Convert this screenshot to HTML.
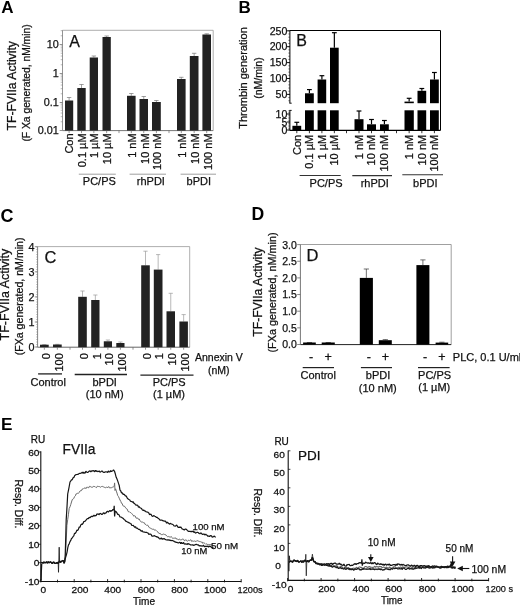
<!DOCTYPE html>
<html><head><meta charset="utf-8"><title>Figure</title>
<style>
html,body{margin:0;padding:0;background:#fff;}
body{width:520px;height:605px;overflow:hidden;font-family:'Liberation Sans', sans-serif;}
svg{display:block;transform:translateZ(0);will-change:transform;}
svg text{font-family:"Liberation Sans", sans-serif;}
</style></head><body>
<svg width="520" height="605" viewBox="0 0 520 605">
<rect width="520" height="605" fill="#fff"/>
<text x="1.2" y="12.7" font-size="17" text-anchor="start" font-weight="bold" fill="#000">A</text>
<text x="238.6" y="12.8" font-size="17" text-anchor="start" font-weight="bold" fill="#000">B</text>
<text x="0.4" y="221.5" font-size="18" text-anchor="start" font-weight="bold" fill="#000">C</text>
<text x="251.4" y="220.4" font-size="17.6" text-anchor="start" font-weight="bold" fill="#000">D</text>
<text x="0.9" y="430" font-size="17.2" text-anchor="start" font-weight="bold" fill="#000">E</text>
<line x1="62.5" y1="30.3" x2="213.2" y2="30.3" stroke="#999" stroke-width="0.8"/>
<line x1="213.2" y1="30.3" x2="213.2" y2="130.6" stroke="#999" stroke-width="0.8"/>
<line x1="62.5" y1="30.3" x2="62.5" y2="130.6" stroke="#888" stroke-width="0.9"/>
<line x1="62.5" y1="130.6" x2="213.2" y2="130.6" stroke="#666" stroke-width="0.9"/>
<line x1="59.7" y1="44.5" x2="62.5" y2="44.5" stroke="#777" stroke-width="0.8"/>
<text x="58.7" y="48.4" font-size="10.8" text-anchor="end" font-weight="normal" fill="#111" stroke="#111" stroke-width="0.25">10</text>
<line x1="59.7" y1="73.5" x2="62.5" y2="73.5" stroke="#777" stroke-width="0.8"/>
<text x="58.7" y="77.4" font-size="10.8" text-anchor="end" font-weight="normal" fill="#111" stroke="#111" stroke-width="0.25">1</text>
<line x1="59.7" y1="102.5" x2="62.5" y2="102.5" stroke="#777" stroke-width="0.8"/>
<text x="58.7" y="106.4" font-size="10.8" text-anchor="end" font-weight="normal" fill="#111" stroke="#111" stroke-width="0.25">0.1</text>
<line x1="59.7" y1="130.5" x2="62.5" y2="130.5" stroke="#777" stroke-width="0.8"/>
<text x="58.7" y="134.4" font-size="10.8" text-anchor="end" font-weight="normal" fill="#111" stroke="#111" stroke-width="0.25">0.01</text>
<line x1="60.7" y1="121.77013012574454" x2="62.5" y2="121.77013012574454" stroke="#777" stroke-width="0.5"/>
<line x1="60.7" y1="116.66348361312978" x2="62.5" y2="116.66348361312978" stroke="#777" stroke-width="0.5"/>
<line x1="60.7" y1="113.04026025148909" x2="62.5" y2="113.04026025148909" stroke="#777" stroke-width="0.5"/>
<line x1="60.7" y1="110.22986987425546" x2="62.5" y2="110.22986987425546" stroke="#777" stroke-width="0.5"/>
<line x1="60.7" y1="107.93361373887433" x2="62.5" y2="107.93361373887433" stroke="#777" stroke-width="0.5"/>
<line x1="60.7" y1="105.99215683958656" x2="62.5" y2="105.99215683958656" stroke="#777" stroke-width="0.5"/>
<line x1="60.7" y1="104.31039037723363" x2="62.5" y2="104.31039037723363" stroke="#777" stroke-width="0.5"/>
<line x1="60.7" y1="102.82696722625958" x2="62.5" y2="102.82696722625958" stroke="#777" stroke-width="0.5"/>
<line x1="60.7" y1="93.77013012574454" x2="62.5" y2="93.77013012574454" stroke="#777" stroke-width="0.5"/>
<line x1="60.7" y1="88.66348361312978" x2="62.5" y2="88.66348361312978" stroke="#777" stroke-width="0.5"/>
<line x1="60.7" y1="85.04026025148909" x2="62.5" y2="85.04026025148909" stroke="#777" stroke-width="0.5"/>
<line x1="60.7" y1="82.22986987425546" x2="62.5" y2="82.22986987425546" stroke="#777" stroke-width="0.5"/>
<line x1="60.7" y1="79.93361373887433" x2="62.5" y2="79.93361373887433" stroke="#777" stroke-width="0.5"/>
<line x1="60.7" y1="77.99215683958656" x2="62.5" y2="77.99215683958656" stroke="#777" stroke-width="0.5"/>
<line x1="60.7" y1="76.31039037723363" x2="62.5" y2="76.31039037723363" stroke="#777" stroke-width="0.5"/>
<line x1="60.7" y1="74.82696722625958" x2="62.5" y2="74.82696722625958" stroke="#777" stroke-width="0.5"/>
<line x1="60.7" y1="64.77013012574454" x2="62.5" y2="64.77013012574454" stroke="#777" stroke-width="0.5"/>
<line x1="60.7" y1="59.66348361312979" x2="62.5" y2="59.66348361312979" stroke="#777" stroke-width="0.5"/>
<line x1="60.7" y1="56.04026025148909" x2="62.5" y2="56.04026025148909" stroke="#777" stroke-width="0.5"/>
<line x1="60.7" y1="53.229869874255456" x2="62.5" y2="53.229869874255456" stroke="#777" stroke-width="0.5"/>
<line x1="60.7" y1="50.933613738874335" x2="62.5" y2="50.933613738874335" stroke="#777" stroke-width="0.5"/>
<line x1="60.7" y1="48.992156839586556" x2="62.5" y2="48.992156839586556" stroke="#777" stroke-width="0.5"/>
<line x1="60.7" y1="47.31039037723364" x2="62.5" y2="47.31039037723364" stroke="#777" stroke-width="0.5"/>
<line x1="60.7" y1="45.82696722625958" x2="62.5" y2="45.82696722625958" stroke="#777" stroke-width="0.5"/>
<line x1="60.7" y1="35.770130125744544" x2="62.5" y2="35.770130125744544" stroke="#777" stroke-width="0.5"/>
<line x1="60.7" y1="30.66348361312979" x2="62.5" y2="30.66348361312979" stroke="#777" stroke-width="0.5"/>
<text x="69.3" y="46.7" font-size="16" text-anchor="start" font-weight="normal" fill="#111" stroke="#111" stroke-width="0.25">A</text>
<line x1="69.1" y1="100.5" x2="69.1" y2="97.5" stroke="#777" stroke-width="0.7"/>
<line x1="66.89999999999999" y1="97.5" x2="71.3" y2="97.5" stroke="#777" stroke-width="0.7"/>
<rect x="65.00" y="100.50" width="8.20" height="30.10" fill="#222"/>
<line x1="81.5" y1="88" x2="81.5" y2="84.5" stroke="#777" stroke-width="0.7"/>
<line x1="79.3" y1="84.5" x2="83.7" y2="84.5" stroke="#777" stroke-width="0.7"/>
<rect x="77.30" y="88.00" width="8.40" height="42.60" fill="#222"/>
<line x1="93.85" y1="57.5" x2="93.85" y2="56" stroke="#777" stroke-width="0.7"/>
<line x1="91.64999999999999" y1="56" x2="96.05" y2="56" stroke="#777" stroke-width="0.7"/>
<rect x="89.70" y="57.50" width="8.30" height="73.10" fill="#222"/>
<line x1="106.65" y1="37" x2="106.65" y2="36" stroke="#777" stroke-width="0.7"/>
<line x1="104.45" y1="36" x2="108.85000000000001" y2="36" stroke="#777" stroke-width="0.7"/>
<rect x="102.50" y="37.00" width="8.30" height="93.60" fill="#222"/>
<line x1="131.3" y1="95.8" x2="131.3" y2="93.5" stroke="#777" stroke-width="0.7"/>
<line x1="129.10000000000002" y1="93.5" x2="133.5" y2="93.5" stroke="#777" stroke-width="0.7"/>
<rect x="127.00" y="95.80" width="8.60" height="34.80" fill="#222"/>
<line x1="143.75" y1="99" x2="143.75" y2="96.5" stroke="#777" stroke-width="0.7"/>
<line x1="141.55" y1="96.5" x2="145.95" y2="96.5" stroke="#777" stroke-width="0.7"/>
<rect x="139.50" y="99.00" width="8.50" height="31.60" fill="#222"/>
<line x1="156.4" y1="102" x2="156.4" y2="100.5" stroke="#777" stroke-width="0.7"/>
<line x1="154.20000000000002" y1="100.5" x2="158.6" y2="100.5" stroke="#777" stroke-width="0.7"/>
<rect x="152.00" y="102.00" width="8.80" height="28.60" fill="#222"/>
<line x1="181.3" y1="79" x2="181.3" y2="77.3" stroke="#777" stroke-width="0.7"/>
<line x1="179.10000000000002" y1="77.3" x2="183.5" y2="77.3" stroke="#777" stroke-width="0.7"/>
<rect x="177.00" y="79.00" width="8.60" height="51.60" fill="#222"/>
<line x1="194.15" y1="56" x2="194.15" y2="53.3" stroke="#777" stroke-width="0.7"/>
<line x1="191.95000000000002" y1="53.3" x2="196.35" y2="53.3" stroke="#777" stroke-width="0.7"/>
<rect x="189.80" y="56.00" width="8.70" height="74.60" fill="#222"/>
<line x1="206.7" y1="34.5" x2="206.7" y2="33.8" stroke="#777" stroke-width="0.7"/>
<line x1="204.5" y1="33.8" x2="208.89999999999998" y2="33.8" stroke="#777" stroke-width="0.7"/>
<rect x="202.40" y="34.50" width="8.60" height="96.10" fill="#222"/>
<line x1="69.1" y1="130.6" x2="69.1" y2="133.1" stroke="#666" stroke-width="0.7"/>
<line x1="81.5" y1="130.6" x2="81.5" y2="133.1" stroke="#666" stroke-width="0.7"/>
<line x1="93.85" y1="130.6" x2="93.85" y2="133.1" stroke="#666" stroke-width="0.7"/>
<line x1="106.65" y1="130.6" x2="106.65" y2="133.1" stroke="#666" stroke-width="0.7"/>
<line x1="131.3" y1="130.6" x2="131.3" y2="133.1" stroke="#666" stroke-width="0.7"/>
<line x1="143.75" y1="130.6" x2="143.75" y2="133.1" stroke="#666" stroke-width="0.7"/>
<line x1="156.4" y1="130.6" x2="156.4" y2="133.1" stroke="#666" stroke-width="0.7"/>
<line x1="181.3" y1="130.6" x2="181.3" y2="133.1" stroke="#666" stroke-width="0.7"/>
<line x1="194.15" y1="130.6" x2="194.15" y2="133.1" stroke="#666" stroke-width="0.7"/>
<line x1="206.7" y1="130.6" x2="206.7" y2="133.1" stroke="#666" stroke-width="0.7"/>
<line x1="119" y1="130.6" x2="119" y2="133.1" stroke="#666" stroke-width="0.7"/>
<line x1="169" y1="130.6" x2="169" y2="133.1" stroke="#666" stroke-width="0.7"/>
<text x="73.3" y="133.4" font-size="11" text-anchor="end" font-weight="normal" fill="#111" transform="rotate(-90 73.3 133.4)" stroke="#111" stroke-width="0.25">Con</text>
<text x="85.7" y="133.4" font-size="11" text-anchor="end" font-weight="normal" fill="#111" transform="rotate(-90 85.7 133.4)" stroke="#111" stroke-width="0.25">0.1 µM</text>
<text x="98.05" y="133.4" font-size="11" text-anchor="end" font-weight="normal" fill="#111" transform="rotate(-90 98.05 133.4)" stroke="#111" stroke-width="0.25">1 µM</text>
<text x="110.85000000000001" y="133.4" font-size="11" text-anchor="end" font-weight="normal" fill="#111" transform="rotate(-90 110.85000000000001 133.4)" stroke="#111" stroke-width="0.25">10 µM</text>
<text x="136.3" y="133.4" font-size="11" text-anchor="end" font-weight="normal" fill="#111" transform="rotate(-90 136.3 133.4)" stroke="#111" stroke-width="0.25">1 nM</text>
<text x="148.75" y="133.4" font-size="11" text-anchor="end" font-weight="normal" fill="#111" transform="rotate(-90 148.75 133.4)" stroke="#111" stroke-width="0.25">10 nM</text>
<text x="161.4" y="133.4" font-size="11" text-anchor="end" font-weight="normal" fill="#111" transform="rotate(-90 161.4 133.4)" stroke="#111" stroke-width="0.25">100 nM</text>
<text x="186.3" y="133.4" font-size="11" text-anchor="end" font-weight="normal" fill="#111" transform="rotate(-90 186.3 133.4)" stroke="#111" stroke-width="0.25">1 nM</text>
<text x="199.15" y="133.4" font-size="11" text-anchor="end" font-weight="normal" fill="#111" transform="rotate(-90 199.15 133.4)" stroke="#111" stroke-width="0.25">10 nM</text>
<text x="211.7" y="133.4" font-size="11" text-anchor="end" font-weight="normal" fill="#111" transform="rotate(-90 211.7 133.4)" stroke="#111" stroke-width="0.25">100 nM</text>
<line x1="78.8" y1="174.2" x2="115.8" y2="174.2" stroke="#888" stroke-width="0.8"/>
<line x1="129.6" y1="174.2" x2="166" y2="174.2" stroke="#888" stroke-width="0.8"/>
<line x1="180.6" y1="174.2" x2="216" y2="174.2" stroke="#888" stroke-width="0.8"/>
<text x="82.8" y="184.7" font-size="11" text-anchor="start" font-weight="normal" fill="#111" stroke="#111" stroke-width="0.25">PC/PS</text>
<text x="136.8" y="184.7" font-size="11" text-anchor="start" font-weight="normal" fill="#111" stroke="#111" stroke-width="0.25">rhPDI</text>
<text x="186.6" y="184.7" font-size="11" text-anchor="start" font-weight="normal" fill="#111" stroke="#111" stroke-width="0.25">bPDI</text>
<text x="16.3" y="85.8" font-size="12.2" text-anchor="middle" font-weight="normal" fill="#111" transform="rotate(-90 16.3 85.8)" stroke="#111" stroke-width="0.25">TF-FVIIa Activity</text>
<text x="30" y="83" font-size="10.5" text-anchor="middle" font-weight="normal" fill="#111" transform="rotate(-90 30 83)" textLength="117.2" lengthAdjust="spacingAndGlyphs" stroke="#111" stroke-width="0.25">(F Xa generated, nM/min)</text>
<line x1="289.9" y1="30.5" x2="440.5" y2="30.5" stroke="#000" stroke-width="1"/>
<line x1="440.5" y1="30.5" x2="440.5" y2="130.4" stroke="#000" stroke-width="1"/>
<line x1="289.9" y1="30.5" x2="289.9" y2="103.2" stroke="#000" stroke-width="1"/>
<line x1="289.4" y1="103.2" x2="291.7" y2="103.2" stroke="#000" stroke-width="0.9"/>
<line x1="289.9" y1="110.4" x2="289.9" y2="130.4" stroke="#000" stroke-width="1"/>
<line x1="289.4" y1="110.4" x2="291.7" y2="110.4" stroke="#000" stroke-width="0.9"/>
<line x1="289.9" y1="130.4" x2="440.5" y2="130.4" stroke="#000" stroke-width="1.2"/>
<text x="296.2" y="46.3" font-size="16" text-anchor="start" font-weight="normal" fill="#111" stroke="#111" stroke-width="0.25">B</text>
<line x1="286.9" y1="30.8" x2="289.9" y2="30.8" stroke="#000" stroke-width="0.9"/>
<text x="287.4" y="34.5" font-size="10.6" text-anchor="end" font-weight="normal" fill="#111" stroke="#111" stroke-width="0.25">250</text>
<line x1="286.9" y1="46.7" x2="289.9" y2="46.7" stroke="#000" stroke-width="0.9"/>
<text x="287.4" y="50.400000000000006" font-size="10.6" text-anchor="end" font-weight="normal" fill="#111" stroke="#111" stroke-width="0.25">200</text>
<line x1="286.9" y1="62.6" x2="289.9" y2="62.6" stroke="#000" stroke-width="0.9"/>
<text x="287.4" y="66.3" font-size="10.6" text-anchor="end" font-weight="normal" fill="#111" stroke="#111" stroke-width="0.25">150</text>
<line x1="286.9" y1="78.5" x2="289.9" y2="78.5" stroke="#000" stroke-width="0.9"/>
<text x="287.4" y="82.2" font-size="10.6" text-anchor="end" font-weight="normal" fill="#111" stroke="#111" stroke-width="0.25">100</text>
<line x1="286.9" y1="94.4" x2="289.9" y2="94.4" stroke="#000" stroke-width="0.9"/>
<text x="287.4" y="98.10000000000001" font-size="10.6" text-anchor="end" font-weight="normal" fill="#111" stroke="#111" stroke-width="0.25">50</text>
<line x1="288.29999999999995" y1="30.8" x2="289.9" y2="30.8" stroke="#000" stroke-width="0.5"/>
<line x1="288.29999999999995" y1="33.980000000000004" x2="289.9" y2="33.980000000000004" stroke="#000" stroke-width="0.5"/>
<line x1="288.29999999999995" y1="37.160000000000004" x2="289.9" y2="37.160000000000004" stroke="#000" stroke-width="0.5"/>
<line x1="288.29999999999995" y1="40.34" x2="289.9" y2="40.34" stroke="#000" stroke-width="0.5"/>
<line x1="288.29999999999995" y1="43.52" x2="289.9" y2="43.52" stroke="#000" stroke-width="0.5"/>
<line x1="288.29999999999995" y1="46.7" x2="289.9" y2="46.7" stroke="#000" stroke-width="0.5"/>
<line x1="288.29999999999995" y1="49.88" x2="289.9" y2="49.88" stroke="#000" stroke-width="0.5"/>
<line x1="288.29999999999995" y1="53.06" x2="289.9" y2="53.06" stroke="#000" stroke-width="0.5"/>
<line x1="288.29999999999995" y1="56.24" x2="289.9" y2="56.24" stroke="#000" stroke-width="0.5"/>
<line x1="288.29999999999995" y1="59.42" x2="289.9" y2="59.42" stroke="#000" stroke-width="0.5"/>
<line x1="288.29999999999995" y1="62.6" x2="289.9" y2="62.6" stroke="#000" stroke-width="0.5"/>
<line x1="288.29999999999995" y1="65.78" x2="289.9" y2="65.78" stroke="#000" stroke-width="0.5"/>
<line x1="288.29999999999995" y1="68.96000000000001" x2="289.9" y2="68.96000000000001" stroke="#000" stroke-width="0.5"/>
<line x1="288.29999999999995" y1="72.14" x2="289.9" y2="72.14" stroke="#000" stroke-width="0.5"/>
<line x1="288.29999999999995" y1="75.32000000000001" x2="289.9" y2="75.32000000000001" stroke="#000" stroke-width="0.5"/>
<line x1="288.29999999999995" y1="78.5" x2="289.9" y2="78.5" stroke="#000" stroke-width="0.5"/>
<line x1="288.29999999999995" y1="81.68" x2="289.9" y2="81.68" stroke="#000" stroke-width="0.5"/>
<line x1="288.29999999999995" y1="84.86" x2="289.9" y2="84.86" stroke="#000" stroke-width="0.5"/>
<line x1="288.29999999999995" y1="88.04" x2="289.9" y2="88.04" stroke="#000" stroke-width="0.5"/>
<line x1="288.29999999999995" y1="91.22" x2="289.9" y2="91.22" stroke="#000" stroke-width="0.5"/>
<line x1="288.29999999999995" y1="94.4" x2="289.9" y2="94.4" stroke="#000" stroke-width="0.5"/>
<line x1="288.29999999999995" y1="97.58" x2="289.9" y2="97.58" stroke="#000" stroke-width="0.5"/>
<line x1="288.29999999999995" y1="100.76" x2="289.9" y2="100.76" stroke="#000" stroke-width="0.5"/>
<line x1="286.9" y1="114" x2="289.9" y2="114" stroke="#000" stroke-width="0.9"/>
<text x="287.4" y="117.7" font-size="10.6" text-anchor="end" font-weight="normal" fill="#111" stroke="#111" stroke-width="0.25">10</text>
<line x1="286.9" y1="122" x2="289.9" y2="122" stroke="#000" stroke-width="0.9"/>
<text x="287.4" y="125.7" font-size="10.6" text-anchor="end" font-weight="normal" fill="#111" stroke="#111" stroke-width="0.25">5</text>
<line x1="286.9" y1="130" x2="289.9" y2="130" stroke="#000" stroke-width="0.9"/>
<text x="287.4" y="133.7" font-size="10.6" text-anchor="end" font-weight="normal" fill="#111" stroke="#111" stroke-width="0.25">0</text>
<line x1="288.29999999999995" y1="110.8" x2="289.9" y2="110.8" stroke="#000" stroke-width="0.5"/>
<line x1="288.29999999999995" y1="112.39999999999999" x2="289.9" y2="112.39999999999999" stroke="#000" stroke-width="0.5"/>
<line x1="288.29999999999995" y1="114.0" x2="289.9" y2="114.0" stroke="#000" stroke-width="0.5"/>
<line x1="288.29999999999995" y1="115.6" x2="289.9" y2="115.6" stroke="#000" stroke-width="0.5"/>
<line x1="288.29999999999995" y1="117.2" x2="289.9" y2="117.2" stroke="#000" stroke-width="0.5"/>
<line x1="288.29999999999995" y1="118.8" x2="289.9" y2="118.8" stroke="#000" stroke-width="0.5"/>
<line x1="288.29999999999995" y1="120.4" x2="289.9" y2="120.4" stroke="#000" stroke-width="0.5"/>
<line x1="288.29999999999995" y1="122.0" x2="289.9" y2="122.0" stroke="#000" stroke-width="0.5"/>
<line x1="288.29999999999995" y1="123.6" x2="289.9" y2="123.6" stroke="#000" stroke-width="0.5"/>
<line x1="288.29999999999995" y1="125.2" x2="289.9" y2="125.2" stroke="#000" stroke-width="0.5"/>
<line x1="288.29999999999995" y1="126.8" x2="289.9" y2="126.8" stroke="#000" stroke-width="0.5"/>
<line x1="288.29999999999995" y1="128.4" x2="289.9" y2="128.4" stroke="#000" stroke-width="0.5"/>
<line x1="288.29999999999995" y1="130.0" x2="289.9" y2="130.0" stroke="#000" stroke-width="0.5"/>
<line x1="296.79999999999995" y1="125.8" x2="296.79999999999995" y2="122.3" stroke="#000" stroke-width="1.2"/>
<line x1="294.4" y1="122.3" x2="299.19999999999993" y2="122.3" stroke="#000" stroke-width="1.2"/>
<rect x="292.40" y="125.80" width="8.80" height="4.60" fill="#000"/>
<line x1="309.4" y1="93.3" x2="309.4" y2="89.6" stroke="#000" stroke-width="1.2"/>
<line x1="307.0" y1="89.6" x2="311.79999999999995" y2="89.6" stroke="#000" stroke-width="1.2"/>
<rect x="305.00" y="93.30" width="8.80" height="9.90" fill="#000"/>
<rect x="305.00" y="110.30" width="8.80" height="20.10" fill="#000"/>
<line x1="321.9" y1="79.5" x2="321.9" y2="75.7" stroke="#000" stroke-width="1.2"/>
<line x1="319.5" y1="75.7" x2="324.29999999999995" y2="75.7" stroke="#000" stroke-width="1.2"/>
<rect x="317.60" y="79.50" width="8.60" height="23.70" fill="#000"/>
<rect x="317.60" y="110.30" width="8.60" height="20.10" fill="#000"/>
<line x1="334.35" y1="47.7" x2="334.35" y2="32.7" stroke="#000" stroke-width="1.2"/>
<line x1="331.95000000000005" y1="32.7" x2="336.75" y2="32.7" stroke="#000" stroke-width="1.2"/>
<rect x="330.00" y="47.70" width="8.70" height="55.50" fill="#000"/>
<rect x="330.00" y="110.30" width="8.70" height="20.10" fill="#000"/>
<line x1="359.0" y1="119.2" x2="359.0" y2="111" stroke="#000" stroke-width="1.2"/>
<line x1="356.6" y1="111" x2="361.4" y2="111" stroke="#000" stroke-width="1.2"/>
<rect x="354.50" y="119.20" width="9.00" height="11.20" fill="#000"/>
<line x1="371.5" y1="124.3" x2="371.5" y2="119.5" stroke="#000" stroke-width="1.2"/>
<line x1="369.1" y1="119.5" x2="373.9" y2="119.5" stroke="#000" stroke-width="1.2"/>
<rect x="367.00" y="124.30" width="9.00" height="6.10" fill="#000"/>
<line x1="384.4" y1="124.3" x2="384.4" y2="120.5" stroke="#000" stroke-width="1.2"/>
<line x1="382.0" y1="120.5" x2="386.79999999999995" y2="120.5" stroke="#000" stroke-width="1.2"/>
<rect x="380.00" y="124.30" width="8.80" height="6.10" fill="#000"/>
<line x1="409.15" y1="101.6" x2="409.15" y2="98.3" stroke="#000" stroke-width="1.2"/>
<line x1="406.75" y1="98.3" x2="411.54999999999995" y2="98.3" stroke="#000" stroke-width="1.2"/>
<rect x="404.50" y="101.60" width="9.30" height="1.60" fill="#000"/>
<rect x="404.50" y="110.30" width="9.30" height="20.10" fill="#000"/>
<line x1="421.85" y1="90.8" x2="421.85" y2="88.5" stroke="#000" stroke-width="1.2"/>
<line x1="419.45000000000005" y1="88.5" x2="424.25" y2="88.5" stroke="#000" stroke-width="1.2"/>
<rect x="417.50" y="90.80" width="8.70" height="12.40" fill="#000"/>
<rect x="417.50" y="110.30" width="8.70" height="20.10" fill="#000"/>
<line x1="434.4" y1="79.5" x2="434.4" y2="72.5" stroke="#000" stroke-width="1.2"/>
<line x1="432.0" y1="72.5" x2="436.79999999999995" y2="72.5" stroke="#000" stroke-width="1.2"/>
<rect x="430.00" y="79.50" width="8.80" height="23.70" fill="#000"/>
<rect x="430.00" y="110.30" width="8.80" height="20.10" fill="#000"/>
<line x1="296.79999999999995" y1="130.4" x2="296.79999999999995" y2="133.20000000000002" stroke="#000" stroke-width="0.8"/>
<line x1="309.4" y1="130.4" x2="309.4" y2="133.20000000000002" stroke="#000" stroke-width="0.8"/>
<line x1="321.9" y1="130.4" x2="321.9" y2="133.20000000000002" stroke="#000" stroke-width="0.8"/>
<line x1="334.35" y1="130.4" x2="334.35" y2="133.20000000000002" stroke="#000" stroke-width="0.8"/>
<line x1="359.0" y1="130.4" x2="359.0" y2="133.20000000000002" stroke="#000" stroke-width="0.8"/>
<line x1="371.5" y1="130.4" x2="371.5" y2="133.20000000000002" stroke="#000" stroke-width="0.8"/>
<line x1="384.4" y1="130.4" x2="384.4" y2="133.20000000000002" stroke="#000" stroke-width="0.8"/>
<line x1="409.15" y1="130.4" x2="409.15" y2="133.20000000000002" stroke="#000" stroke-width="0.8"/>
<line x1="421.85" y1="130.4" x2="421.85" y2="133.20000000000002" stroke="#000" stroke-width="0.8"/>
<line x1="434.4" y1="130.4" x2="434.4" y2="133.20000000000002" stroke="#000" stroke-width="0.8"/>
<line x1="346.5" y1="130.4" x2="346.5" y2="133.20000000000002" stroke="#000" stroke-width="0.8"/>
<line x1="396.5" y1="130.4" x2="396.5" y2="133.20000000000002" stroke="#000" stroke-width="0.8"/>
<text x="300.69999999999993" y="134.8" font-size="11" text-anchor="end" font-weight="normal" fill="#111" transform="rotate(-90 300.69999999999993 134.8)" stroke="#111" stroke-width="0.25">Con</text>
<text x="313.29999999999995" y="134.8" font-size="11" text-anchor="end" font-weight="normal" fill="#111" transform="rotate(-90 313.29999999999995 134.8)" stroke="#111" stroke-width="0.25">0.1 µM</text>
<text x="325.79999999999995" y="134.8" font-size="11" text-anchor="end" font-weight="normal" fill="#111" transform="rotate(-90 325.79999999999995 134.8)" stroke="#111" stroke-width="0.25">1 µM</text>
<text x="338.25" y="134.8" font-size="11" text-anchor="end" font-weight="normal" fill="#111" transform="rotate(-90 338.25 134.8)" stroke="#111" stroke-width="0.25">10 µM</text>
<text x="362.9" y="134.8" font-size="11" text-anchor="end" font-weight="normal" fill="#111" transform="rotate(-90 362.9 134.8)" stroke="#111" stroke-width="0.25">1 nM</text>
<text x="375.4" y="134.8" font-size="11" text-anchor="end" font-weight="normal" fill="#111" transform="rotate(-90 375.4 134.8)" stroke="#111" stroke-width="0.25">10 nM</text>
<text x="388.29999999999995" y="134.8" font-size="11" text-anchor="end" font-weight="normal" fill="#111" transform="rotate(-90 388.29999999999995 134.8)" stroke="#111" stroke-width="0.25">100 nM</text>
<text x="413.04999999999995" y="134.8" font-size="11" text-anchor="end" font-weight="normal" fill="#111" transform="rotate(-90 413.04999999999995 134.8)" stroke="#111" stroke-width="0.25">1 nM</text>
<text x="425.75" y="134.8" font-size="11" text-anchor="end" font-weight="normal" fill="#111" transform="rotate(-90 425.75 134.8)" stroke="#111" stroke-width="0.25">10 nM</text>
<text x="438.29999999999995" y="134.8" font-size="11" text-anchor="end" font-weight="normal" fill="#111" transform="rotate(-90 438.29999999999995 134.8)" stroke="#111" stroke-width="0.25">100 nM</text>
<line x1="299.6" y1="175.5" x2="340.7" y2="175.5" stroke="#333" stroke-width="1.1"/>
<line x1="352.3" y1="175.6" x2="392" y2="175.6" stroke="#333" stroke-width="1.1"/>
<line x1="402.3" y1="174.8" x2="443" y2="174.8" stroke="#333" stroke-width="1.1"/>
<text x="309.6" y="186.8" font-size="11" text-anchor="start" font-weight="normal" fill="#111" stroke="#111" stroke-width="0.25">PC/PS</text>
<text x="360.7" y="187.3" font-size="11" text-anchor="start" font-weight="normal" fill="#111" stroke="#111" stroke-width="0.25">rhPDI</text>
<text x="413.1" y="186.6" font-size="11" text-anchor="start" font-weight="normal" fill="#111" stroke="#111" stroke-width="0.25">bPDI</text>
<text x="247.4" y="78" font-size="11" text-anchor="middle" font-weight="normal" fill="#111" transform="rotate(-90 247.4 78)" stroke="#111" stroke-width="0.25">Thrombin generation</text>
<text x="262" y="78" font-size="10.5" text-anchor="middle" font-weight="normal" fill="#111" transform="rotate(-90 262 78)" stroke="#111" stroke-width="0.25">(nM/min)</text>
<line x1="37.6" y1="246.6" x2="189.7" y2="246.6" stroke="#999" stroke-width="0.8"/>
<line x1="189.7" y1="246.6" x2="189.7" y2="347.2" stroke="#999" stroke-width="0.8"/>
<line x1="37.6" y1="246.6" x2="37.6" y2="347.2" stroke="#777" stroke-width="0.9"/>
<line x1="37.6" y1="347.2" x2="189.7" y2="347.2" stroke="#555" stroke-width="0.9"/>
<text x="44.5" y="263.2" font-size="16.5" text-anchor="start" font-weight="normal" fill="#111" stroke="#111" stroke-width="0.25">C</text>
<line x1="34.800000000000004" y1="246.7" x2="37.6" y2="246.7" stroke="#777" stroke-width="0.8"/>
<text x="34.6" y="250.6" font-size="10.8" text-anchor="end" font-weight="normal" fill="#111" stroke="#111" stroke-width="0.25">4</text>
<line x1="34.800000000000004" y1="271.8" x2="37.6" y2="271.8" stroke="#777" stroke-width="0.8"/>
<text x="34.6" y="275.7" font-size="10.8" text-anchor="end" font-weight="normal" fill="#111" stroke="#111" stroke-width="0.25">3</text>
<line x1="34.800000000000004" y1="296.9" x2="37.6" y2="296.9" stroke="#777" stroke-width="0.8"/>
<text x="34.6" y="300.79999999999995" font-size="10.8" text-anchor="end" font-weight="normal" fill="#111" stroke="#111" stroke-width="0.25">2</text>
<line x1="34.800000000000004" y1="322" x2="37.6" y2="322" stroke="#777" stroke-width="0.8"/>
<text x="34.6" y="325.9" font-size="10.8" text-anchor="end" font-weight="normal" fill="#111" stroke="#111" stroke-width="0.25">1</text>
<line x1="34.800000000000004" y1="347" x2="37.6" y2="347" stroke="#777" stroke-width="0.8"/>
<text x="34.6" y="350.9" font-size="10.8" text-anchor="end" font-weight="normal" fill="#111" stroke="#111" stroke-width="0.25">0</text>
<line x1="36.0" y1="247.0" x2="37.6" y2="247.0" stroke="#777" stroke-width="0.4"/>
<line x1="36.0" y1="249.5" x2="37.6" y2="249.5" stroke="#777" stroke-width="0.4"/>
<line x1="36.0" y1="252.0" x2="37.6" y2="252.0" stroke="#777" stroke-width="0.4"/>
<line x1="36.0" y1="254.5" x2="37.6" y2="254.5" stroke="#777" stroke-width="0.4"/>
<line x1="36.0" y1="257.0" x2="37.6" y2="257.0" stroke="#777" stroke-width="0.4"/>
<line x1="36.0" y1="259.5" x2="37.6" y2="259.5" stroke="#777" stroke-width="0.4"/>
<line x1="36.0" y1="262.0" x2="37.6" y2="262.0" stroke="#777" stroke-width="0.4"/>
<line x1="36.0" y1="264.5" x2="37.6" y2="264.5" stroke="#777" stroke-width="0.4"/>
<line x1="36.0" y1="267.0" x2="37.6" y2="267.0" stroke="#777" stroke-width="0.4"/>
<line x1="36.0" y1="269.5" x2="37.6" y2="269.5" stroke="#777" stroke-width="0.4"/>
<line x1="36.0" y1="272.0" x2="37.6" y2="272.0" stroke="#777" stroke-width="0.4"/>
<line x1="36.0" y1="274.5" x2="37.6" y2="274.5" stroke="#777" stroke-width="0.4"/>
<line x1="36.0" y1="277.0" x2="37.6" y2="277.0" stroke="#777" stroke-width="0.4"/>
<line x1="36.0" y1="279.5" x2="37.6" y2="279.5" stroke="#777" stroke-width="0.4"/>
<line x1="36.0" y1="282.0" x2="37.6" y2="282.0" stroke="#777" stroke-width="0.4"/>
<line x1="36.0" y1="284.5" x2="37.6" y2="284.5" stroke="#777" stroke-width="0.4"/>
<line x1="36.0" y1="287.0" x2="37.6" y2="287.0" stroke="#777" stroke-width="0.4"/>
<line x1="36.0" y1="289.5" x2="37.6" y2="289.5" stroke="#777" stroke-width="0.4"/>
<line x1="36.0" y1="292.0" x2="37.6" y2="292.0" stroke="#777" stroke-width="0.4"/>
<line x1="36.0" y1="294.5" x2="37.6" y2="294.5" stroke="#777" stroke-width="0.4"/>
<line x1="36.0" y1="297.0" x2="37.6" y2="297.0" stroke="#777" stroke-width="0.4"/>
<line x1="36.0" y1="299.5" x2="37.6" y2="299.5" stroke="#777" stroke-width="0.4"/>
<line x1="36.0" y1="302.0" x2="37.6" y2="302.0" stroke="#777" stroke-width="0.4"/>
<line x1="36.0" y1="304.5" x2="37.6" y2="304.5" stroke="#777" stroke-width="0.4"/>
<line x1="36.0" y1="307.0" x2="37.6" y2="307.0" stroke="#777" stroke-width="0.4"/>
<line x1="36.0" y1="309.5" x2="37.6" y2="309.5" stroke="#777" stroke-width="0.4"/>
<line x1="36.0" y1="312.0" x2="37.6" y2="312.0" stroke="#777" stroke-width="0.4"/>
<line x1="36.0" y1="314.5" x2="37.6" y2="314.5" stroke="#777" stroke-width="0.4"/>
<line x1="36.0" y1="317.0" x2="37.6" y2="317.0" stroke="#777" stroke-width="0.4"/>
<line x1="36.0" y1="319.5" x2="37.6" y2="319.5" stroke="#777" stroke-width="0.4"/>
<line x1="36.0" y1="322.0" x2="37.6" y2="322.0" stroke="#777" stroke-width="0.4"/>
<line x1="36.0" y1="324.5" x2="37.6" y2="324.5" stroke="#777" stroke-width="0.4"/>
<line x1="36.0" y1="327.0" x2="37.6" y2="327.0" stroke="#777" stroke-width="0.4"/>
<line x1="36.0" y1="329.5" x2="37.6" y2="329.5" stroke="#777" stroke-width="0.4"/>
<line x1="36.0" y1="332.0" x2="37.6" y2="332.0" stroke="#777" stroke-width="0.4"/>
<line x1="36.0" y1="334.5" x2="37.6" y2="334.5" stroke="#777" stroke-width="0.4"/>
<line x1="36.0" y1="337.0" x2="37.6" y2="337.0" stroke="#777" stroke-width="0.4"/>
<line x1="36.0" y1="339.5" x2="37.6" y2="339.5" stroke="#777" stroke-width="0.4"/>
<line x1="36.0" y1="342.0" x2="37.6" y2="342.0" stroke="#777" stroke-width="0.4"/>
<line x1="36.0" y1="344.5" x2="37.6" y2="344.5" stroke="#777" stroke-width="0.4"/>
<line x1="36.0" y1="347.0" x2="37.6" y2="347.0" stroke="#777" stroke-width="0.4"/>
<line x1="44.35" y1="344.7" x2="44.35" y2="344.5" stroke="#999" stroke-width="0.7"/>
<line x1="42.25" y1="344.5" x2="46.45" y2="344.5" stroke="#999" stroke-width="0.7"/>
<rect x="40.00" y="344.70" width="8.70" height="2.50" fill="#222"/>
<line x1="57.35" y1="344.5" x2="57.35" y2="344.3" stroke="#999" stroke-width="0.7"/>
<line x1="55.25" y1="344.3" x2="59.45" y2="344.3" stroke="#999" stroke-width="0.7"/>
<rect x="53.00" y="344.50" width="8.70" height="2.70" fill="#222"/>
<line x1="82.5" y1="296.8" x2="82.5" y2="291" stroke="#999" stroke-width="0.7"/>
<line x1="80.4" y1="291" x2="84.6" y2="291" stroke="#999" stroke-width="0.7"/>
<rect x="78.20" y="296.80" width="8.60" height="50.40" fill="#222"/>
<line x1="95.35" y1="300" x2="95.35" y2="295" stroke="#999" stroke-width="0.7"/>
<line x1="93.25" y1="295" x2="97.44999999999999" y2="295" stroke="#999" stroke-width="0.7"/>
<rect x="91.20" y="300.00" width="8.30" height="47.20" fill="#222"/>
<line x1="107.9" y1="341.3" x2="107.9" y2="340" stroke="#999" stroke-width="0.7"/>
<line x1="105.80000000000001" y1="340" x2="110.0" y2="340" stroke="#999" stroke-width="0.7"/>
<rect x="103.80" y="341.30" width="8.20" height="5.90" fill="#222"/>
<line x1="120.4" y1="343" x2="120.4" y2="342" stroke="#999" stroke-width="0.7"/>
<line x1="118.30000000000001" y1="342" x2="122.5" y2="342" stroke="#999" stroke-width="0.7"/>
<rect x="116.30" y="343.00" width="8.20" height="4.20" fill="#222"/>
<line x1="145.5" y1="265.3" x2="145.5" y2="251.2" stroke="#999" stroke-width="0.7"/>
<line x1="143.4" y1="251.2" x2="147.6" y2="251.2" stroke="#999" stroke-width="0.7"/>
<rect x="141.20" y="265.30" width="8.60" height="81.90" fill="#222"/>
<line x1="158.15" y1="269.6" x2="158.15" y2="254.6" stroke="#999" stroke-width="0.7"/>
<line x1="156.05" y1="254.6" x2="160.25" y2="254.6" stroke="#999" stroke-width="0.7"/>
<rect x="153.80" y="269.60" width="8.70" height="77.60" fill="#222"/>
<line x1="170.75" y1="311.3" x2="170.75" y2="293.3" stroke="#999" stroke-width="0.7"/>
<line x1="168.65" y1="293.3" x2="172.85" y2="293.3" stroke="#999" stroke-width="0.7"/>
<rect x="166.50" y="311.30" width="8.50" height="35.90" fill="#222"/>
<line x1="183.65" y1="321.5" x2="183.65" y2="314.6" stroke="#999" stroke-width="0.7"/>
<line x1="181.55" y1="314.6" x2="185.75" y2="314.6" stroke="#999" stroke-width="0.7"/>
<rect x="179.40" y="321.50" width="8.50" height="25.70" fill="#222"/>
<line x1="44.35" y1="347.2" x2="44.35" y2="349.7" stroke="#666" stroke-width="0.7"/>
<line x1="57.35" y1="347.2" x2="57.35" y2="349.7" stroke="#666" stroke-width="0.7"/>
<line x1="82.5" y1="347.2" x2="82.5" y2="349.7" stroke="#666" stroke-width="0.7"/>
<line x1="95.35" y1="347.2" x2="95.35" y2="349.7" stroke="#666" stroke-width="0.7"/>
<line x1="107.9" y1="347.2" x2="107.9" y2="349.7" stroke="#666" stroke-width="0.7"/>
<line x1="120.4" y1="347.2" x2="120.4" y2="349.7" stroke="#666" stroke-width="0.7"/>
<line x1="145.5" y1="347.2" x2="145.5" y2="349.7" stroke="#666" stroke-width="0.7"/>
<line x1="158.15" y1="347.2" x2="158.15" y2="349.7" stroke="#666" stroke-width="0.7"/>
<line x1="170.75" y1="347.2" x2="170.75" y2="349.7" stroke="#666" stroke-width="0.7"/>
<line x1="183.65" y1="347.2" x2="183.65" y2="349.7" stroke="#666" stroke-width="0.7"/>
<line x1="70" y1="347.2" x2="70" y2="349.7" stroke="#666" stroke-width="0.7"/>
<line x1="133" y1="347.2" x2="133" y2="349.7" stroke="#666" stroke-width="0.7"/>
<text x="49.65" y="353.2" font-size="11" text-anchor="end" font-weight="normal" fill="#111" transform="rotate(-90 49.65 353.2)" stroke="#111" stroke-width="0.25">0</text>
<text x="62.65" y="353.2" font-size="11" text-anchor="end" font-weight="normal" fill="#111" transform="rotate(-90 62.65 353.2)" stroke="#111" stroke-width="0.25">100</text>
<text x="87.8" y="353.2" font-size="11" text-anchor="end" font-weight="normal" fill="#111" transform="rotate(-90 87.8 353.2)" stroke="#111" stroke-width="0.25">0</text>
<text x="100.64999999999999" y="353.2" font-size="11" text-anchor="end" font-weight="normal" fill="#111" transform="rotate(-90 100.64999999999999 353.2)" stroke="#111" stroke-width="0.25">1</text>
<text x="113.2" y="353.2" font-size="11" text-anchor="end" font-weight="normal" fill="#111" transform="rotate(-90 113.2 353.2)" stroke="#111" stroke-width="0.25">10</text>
<text x="125.7" y="353.2" font-size="11" text-anchor="end" font-weight="normal" fill="#111" transform="rotate(-90 125.7 353.2)" stroke="#111" stroke-width="0.25">100</text>
<text x="150.8" y="353.2" font-size="11" text-anchor="end" font-weight="normal" fill="#111" transform="rotate(-90 150.8 353.2)" stroke="#111" stroke-width="0.25">0</text>
<text x="163.45000000000002" y="353.2" font-size="11" text-anchor="end" font-weight="normal" fill="#111" transform="rotate(-90 163.45000000000002 353.2)" stroke="#111" stroke-width="0.25">1</text>
<text x="176.05" y="353.2" font-size="11" text-anchor="end" font-weight="normal" fill="#111" transform="rotate(-90 176.05 353.2)" stroke="#111" stroke-width="0.25">10</text>
<text x="188.95000000000002" y="353.2" font-size="11" text-anchor="end" font-weight="normal" fill="#111" transform="rotate(-90 188.95000000000002 353.2)" stroke="#111" stroke-width="0.25">100</text>
<line x1="38.1" y1="373.9" x2="62" y2="373.9" stroke="#222" stroke-width="1.3"/>
<line x1="74.7" y1="374.5" x2="127" y2="374.5" stroke="#222" stroke-width="1.3"/>
<line x1="140.4" y1="375.2" x2="193.5" y2="375.2" stroke="#222" stroke-width="1.3"/>
<text x="48.2" y="386.1" font-size="11" text-anchor="middle" font-weight="normal" fill="#111" stroke="#111" stroke-width="0.25">Control</text>
<text x="104.7" y="386.1" font-size="11" text-anchor="middle" font-weight="normal" fill="#111" stroke="#111" stroke-width="0.25">bPDI</text>
<text x="104.7" y="398.2" font-size="11" text-anchor="middle" font-weight="normal" fill="#111" stroke="#111" stroke-width="0.25">(10 nM)</text>
<text x="169.2" y="385.8" font-size="11" text-anchor="middle" font-weight="normal" fill="#111" stroke="#111" stroke-width="0.25">PC/PS</text>
<text x="169" y="397.8" font-size="11" text-anchor="middle" font-weight="normal" fill="#111" stroke="#111" stroke-width="0.25">(1 µM)</text>
<text x="195" y="361.2" font-size="10.5" text-anchor="start" font-weight="normal" fill="#111" stroke="#111" stroke-width="0.25">Annexin V</text>
<text x="218.8" y="373.5" font-size="10.5" text-anchor="middle" font-weight="normal" fill="#111" stroke="#111" stroke-width="0.25">(nM)</text>
<text x="8.7" y="294.6" font-size="12.5" text-anchor="middle" font-weight="normal" fill="#111" transform="rotate(-90 8.7 294.6)" stroke="#111" stroke-width="0.25">TF-FVIIa Activity</text>
<text x="23" y="296.4" font-size="10.6" text-anchor="middle" font-weight="normal" fill="#111" transform="rotate(-90 23 296.4)" stroke="#111" stroke-width="0.25">(FXa generated, nM/min)</text>
<line x1="300.4" y1="244.5" x2="451.2" y2="244.5" stroke="#888" stroke-width="0.8"/>
<line x1="451.2" y1="244.5" x2="451.2" y2="344.6" stroke="#888" stroke-width="0.8"/>
<line x1="300.4" y1="244.5" x2="300.4" y2="344.6" stroke="#666" stroke-width="0.9"/>
<line x1="300.4" y1="344.6" x2="451.2" y2="344.6" stroke="#222" stroke-width="1"/>
<text x="306.5" y="261" font-size="16.5" text-anchor="start" font-weight="normal" fill="#111" stroke="#111" stroke-width="0.25">D</text>
<line x1="297.2" y1="244.6" x2="300.4" y2="244.6" stroke="#666" stroke-width="0.8"/>
<text x="296.79999999999995" y="248.5" font-size="10.5" text-anchor="end" font-weight="normal" fill="#111" stroke="#111" stroke-width="0.25">3.0</text>
<line x1="297.2" y1="261.25" x2="300.4" y2="261.25" stroke="#666" stroke-width="0.8"/>
<text x="296.79999999999995" y="265.15" font-size="10.5" text-anchor="end" font-weight="normal" fill="#111" stroke="#111" stroke-width="0.25">2.5</text>
<line x1="297.2" y1="277.9" x2="300.4" y2="277.9" stroke="#666" stroke-width="0.8"/>
<text x="296.79999999999995" y="281.79999999999995" font-size="10.5" text-anchor="end" font-weight="normal" fill="#111" stroke="#111" stroke-width="0.25">2.0</text>
<line x1="297.2" y1="294.55" x2="300.4" y2="294.55" stroke="#666" stroke-width="0.8"/>
<text x="296.79999999999995" y="298.45" font-size="10.5" text-anchor="end" font-weight="normal" fill="#111" stroke="#111" stroke-width="0.25">1.5</text>
<line x1="297.2" y1="311.2" x2="300.4" y2="311.2" stroke="#666" stroke-width="0.8"/>
<text x="296.79999999999995" y="315.09999999999997" font-size="10.5" text-anchor="end" font-weight="normal" fill="#111" stroke="#111" stroke-width="0.25">1.0</text>
<line x1="297.2" y1="327.85" x2="300.4" y2="327.85" stroke="#666" stroke-width="0.8"/>
<text x="296.79999999999995" y="331.75" font-size="10.5" text-anchor="end" font-weight="normal" fill="#111" stroke="#111" stroke-width="0.25">0.5</text>
<line x1="297.2" y1="344.5" x2="300.4" y2="344.5" stroke="#666" stroke-width="0.8"/>
<text x="296.79999999999995" y="348.4" font-size="10.5" text-anchor="end" font-weight="normal" fill="#111" stroke="#111" stroke-width="0.25">0.0</text>
<line x1="309.45000000000005" y1="342.5" x2="309.45000000000005" y2="342.5" stroke="#333" stroke-width="0.7"/>
<line x1="306.85" y1="342.5" x2="312.05000000000007" y2="342.5" stroke="#333" stroke-width="0.7"/>
<rect x="303.10" y="342.50" width="12.70" height="2.10" fill="#000"/>
<line x1="328.25" y1="342.5" x2="328.25" y2="342.5" stroke="#333" stroke-width="0.7"/>
<line x1="325.65" y1="342.5" x2="330.85" y2="342.5" stroke="#333" stroke-width="0.7"/>
<rect x="321.70" y="342.50" width="13.10" height="2.10" fill="#000"/>
<line x1="366.35" y1="277.9" x2="366.35" y2="269" stroke="#333" stroke-width="0.7"/>
<line x1="363.75" y1="269" x2="368.95000000000005" y2="269" stroke="#333" stroke-width="0.7"/>
<rect x="359.80" y="277.90" width="13.10" height="66.70" fill="#000"/>
<line x1="385.3" y1="340.2" x2="385.3" y2="339.6" stroke="#333" stroke-width="0.7"/>
<line x1="382.7" y1="339.6" x2="387.90000000000003" y2="339.6" stroke="#333" stroke-width="0.7"/>
<rect x="378.80" y="340.20" width="13.00" height="4.40" fill="#000"/>
<line x1="422.9" y1="265.1" x2="422.9" y2="259.9" stroke="#333" stroke-width="0.7"/>
<line x1="420.29999999999995" y1="259.9" x2="425.5" y2="259.9" stroke="#333" stroke-width="0.7"/>
<rect x="416.40" y="265.10" width="13.00" height="79.50" fill="#000"/>
<line x1="441.9" y1="342.6" x2="441.9" y2="342.2" stroke="#333" stroke-width="0.7"/>
<line x1="439.29999999999995" y1="342.2" x2="444.5" y2="342.2" stroke="#333" stroke-width="0.7"/>
<rect x="435.60" y="342.60" width="12.60" height="2.00" fill="#000"/>
<text x="311.2" y="360.6" font-size="12.5" text-anchor="middle" font-weight="normal" fill="#111" stroke="#111" stroke-width="0.3">-</text>
<text x="328.1" y="360.6" font-size="12.5" text-anchor="middle" font-weight="normal" fill="#111" stroke="#111" stroke-width="0.3">+</text>
<text x="368.8" y="360.6" font-size="12.5" text-anchor="middle" font-weight="normal" fill="#111" stroke="#111" stroke-width="0.3">-</text>
<text x="385.5" y="360.6" font-size="12.5" text-anchor="middle" font-weight="normal" fill="#111" stroke="#111" stroke-width="0.3">+</text>
<text x="425.2" y="360.6" font-size="12.5" text-anchor="middle" font-weight="normal" fill="#111" stroke="#111" stroke-width="0.3">-</text>
<text x="441.8" y="360.6" font-size="12.5" text-anchor="middle" font-weight="normal" fill="#111" stroke="#111" stroke-width="0.3">+</text>
<line x1="302.7" y1="367.6" x2="334" y2="367.6" stroke="#222" stroke-width="1.2"/>
<line x1="360.9" y1="367.6" x2="392" y2="367.6" stroke="#222" stroke-width="1.2"/>
<line x1="418" y1="367.6" x2="449.6" y2="367.6" stroke="#222" stroke-width="1.2"/>
<text x="318.2" y="379.4" font-size="11" text-anchor="middle" font-weight="normal" fill="#111" stroke="#111" stroke-width="0.25">Control</text>
<text x="378" y="379.4" font-size="11" text-anchor="middle" font-weight="normal" fill="#111" stroke="#111" stroke-width="0.25">bPDI</text>
<text x="377.8" y="392.1" font-size="11" text-anchor="middle" font-weight="normal" fill="#111" stroke="#111" stroke-width="0.25">(10 nM)</text>
<text x="434.6" y="378.6" font-size="11" text-anchor="middle" font-weight="normal" fill="#111" stroke="#111" stroke-width="0.25">PC/PS</text>
<text x="434.3" y="390.6" font-size="11" text-anchor="middle" font-weight="normal" fill="#111" stroke="#111" stroke-width="0.25">(1 µM)</text>
<text x="452.8" y="360.8" font-size="11" text-anchor="start" font-weight="normal" fill="#111" stroke="#111" stroke-width="0.25">PLC, 0.1 U/ml</text>
<text x="262.2" y="292" font-size="12.2" text-anchor="middle" font-weight="normal" fill="#111" transform="rotate(-90 262.2 292)" stroke="#111" stroke-width="0.25">TF-FVIIa Activity</text>
<text x="275.7" y="292.5" font-size="10.8" text-anchor="middle" font-weight="normal" fill="#111" transform="rotate(-90 275.7 292.5)" stroke="#111" stroke-width="0.25">(FXa generated, nM/min)</text>
<line x1="40.8" y1="451.3" x2="40.8" y2="581.5" stroke="#111" stroke-width="1.1"/>
<line x1="40.3" y1="581.5" x2="241.3" y2="581.5" stroke="#111" stroke-width="1.1"/>
<line x1="38.599999999999994" y1="452.0" x2="40.8" y2="452.0" stroke="#111" stroke-width="0.8"/>
<text transform="translate(39.5 455.5) scale(1.08 1)" x="0" y="0" font-size="9.4" text-anchor="end" fill="#111" stroke="#111" stroke-width="0.25">60</text>
<line x1="38.599999999999994" y1="470.45" x2="40.8" y2="470.45" stroke="#111" stroke-width="0.8"/>
<text transform="translate(39.5 473.95) scale(1.08 1)" x="0" y="0" font-size="9.4" text-anchor="end" fill="#111" stroke="#111" stroke-width="0.25">50</text>
<line x1="38.599999999999994" y1="488.9" x2="40.8" y2="488.9" stroke="#111" stroke-width="0.8"/>
<text transform="translate(39.5 492.4) scale(1.08 1)" x="0" y="0" font-size="9.4" text-anchor="end" fill="#111" stroke="#111" stroke-width="0.25">40</text>
<line x1="38.599999999999994" y1="507.35" x2="40.8" y2="507.35" stroke="#111" stroke-width="0.8"/>
<text transform="translate(39.5 510.85) scale(1.08 1)" x="0" y="0" font-size="9.4" text-anchor="end" fill="#111" stroke="#111" stroke-width="0.25">30</text>
<line x1="38.599999999999994" y1="525.8" x2="40.8" y2="525.8" stroke="#111" stroke-width="0.8"/>
<text transform="translate(39.5 529.3) scale(1.08 1)" x="0" y="0" font-size="9.4" text-anchor="end" fill="#111" stroke="#111" stroke-width="0.25">20</text>
<line x1="38.599999999999994" y1="544.25" x2="40.8" y2="544.25" stroke="#111" stroke-width="0.8"/>
<text transform="translate(39.5 547.75) scale(1.08 1)" x="0" y="0" font-size="9.4" text-anchor="end" fill="#111" stroke="#111" stroke-width="0.25">10</text>
<line x1="38.599999999999994" y1="562.7" x2="40.8" y2="562.7" stroke="#111" stroke-width="0.8"/>
<text transform="translate(39.5 566.2) scale(1.08 1)" x="0" y="0" font-size="9.4" text-anchor="end" fill="#111" stroke="#111" stroke-width="0.25">0</text>
<line x1="38.599999999999994" y1="581.15" x2="40.8" y2="581.15" stroke="#111" stroke-width="0.8"/>
<text transform="translate(39.5 584.65) scale(1.08 1)" x="0" y="0" font-size="9.4" text-anchor="end" fill="#111" stroke="#111" stroke-width="0.25">-10</text>
<line x1="40.8" y1="582.4" x2="40.8" y2="579.1" stroke="#111" stroke-width="0.9"/>
<line x1="57.5" y1="582.4" x2="57.5" y2="579.7" stroke="#111" stroke-width="0.9"/>
<line x1="74.19999999999999" y1="582.4" x2="74.19999999999999" y2="579.1" stroke="#111" stroke-width="0.9"/>
<line x1="90.89999999999999" y1="582.4" x2="90.89999999999999" y2="579.7" stroke="#111" stroke-width="0.9"/>
<line x1="107.6" y1="582.4" x2="107.6" y2="579.1" stroke="#111" stroke-width="0.9"/>
<line x1="124.3" y1="582.4" x2="124.3" y2="579.7" stroke="#111" stroke-width="0.9"/>
<line x1="141.0" y1="582.4" x2="141.0" y2="579.1" stroke="#111" stroke-width="0.9"/>
<line x1="157.7" y1="582.4" x2="157.7" y2="579.7" stroke="#111" stroke-width="0.9"/>
<line x1="174.39999999999998" y1="582.4" x2="174.39999999999998" y2="579.1" stroke="#111" stroke-width="0.9"/>
<line x1="191.09999999999997" y1="582.4" x2="191.09999999999997" y2="579.7" stroke="#111" stroke-width="0.9"/>
<line x1="207.8" y1="582.4" x2="207.8" y2="579.1" stroke="#111" stroke-width="0.9"/>
<line x1="224.5" y1="582.4" x2="224.5" y2="579.7" stroke="#111" stroke-width="0.9"/>
<line x1="241.2" y1="582.4" x2="241.2" y2="579.1" stroke="#111" stroke-width="0.9"/>
<text transform="translate(43.2 593.3) scale(1.08 1)" x="0" y="0" font-size="9.4" text-anchor="middle" fill="#111" stroke="#111" stroke-width="0.25">0</text>
<text transform="translate(80 593.3) scale(1.08 1)" x="0" y="0" font-size="9.4" text-anchor="middle" fill="#111" stroke="#111" stroke-width="0.25">200</text>
<text transform="translate(112.7 593.3) scale(1.08 1)" x="0" y="0" font-size="9.4" text-anchor="middle" fill="#111" stroke="#111" stroke-width="0.25">400</text>
<text transform="translate(146.1 593.3) scale(1.08 1)" x="0" y="0" font-size="9.4" text-anchor="middle" fill="#111" stroke="#111" stroke-width="0.25">600</text>
<text transform="translate(179.6 593.3) scale(1.08 1)" x="0" y="0" font-size="9.4" text-anchor="middle" fill="#111" stroke="#111" stroke-width="0.25">800</text>
<text transform="translate(215.2 593.3) scale(1.08 1)" x="0" y="0" font-size="9.4" text-anchor="middle" fill="#111" stroke="#111" stroke-width="0.25">1000</text>
<text x="237.6" y="593.3" font-size="9.4" text-anchor="start" font-weight="normal" fill="#111" textLength="25" lengthAdjust="spacingAndGlyphs" stroke="#111" stroke-width="0.25">1200s</text>
<text x="133" y="604.9" font-size="10.6" text-anchor="start" font-weight="normal" fill="#111" textLength="22" lengthAdjust="spacingAndGlyphs" stroke="#111" stroke-width="0.25">Time</text>
<text x="30.7" y="443.1" font-size="10" text-anchor="start" font-weight="normal" fill="#111" stroke="#111" stroke-width="0.25">RU</text>
<text x="62.5" y="454.3" font-size="13.8" text-anchor="start" font-weight="normal" fill="#111" stroke="#111" stroke-width="0.25">FVIIa</text>
<text x="14.9" y="479.5" font-size="10.5" text-anchor="start" font-weight="normal" fill="#111" transform="rotate(90 14.9 479.5)" stroke="#111" stroke-width="0.25">Resp. Diff.</text>
<path d="M41.1,580.5 L41.3,572.0 L41.7,564.0" fill="none" stroke="#151515" stroke-width="1.3" stroke-linejoin="bevel"/>
<path d="M58.2,562.6 L58.5,572.3 L59.2,547.2 L59.6,561.5" fill="none" stroke="#222" stroke-width="0.9" stroke-linejoin="bevel"/>
<path d="M41.2,563.5 L42.1,562.1 L43.0,563.2 L43.9,562.1 L44.8,562.8 L45.6,562.7 L46.5,561.5 L47.4,562.4 L48.2,561.7 L49.1,563.1 L50.0,562.1 L50.8,561.9 L51.6,562.9 L52.5,563.5 L53.3,561.8 L54.1,562.6 L54.9,563.3 L55.7,563.3 L56.6,562.9 L57.4,562.5 L58.2,564.0 L59.6,561.1 L60.6,562.1 L61.5,561.8 L62.5,560.4 L63.5,560.6 L64.1,563.3 L64.6,561.1 L64.6,561.5 L65.3,557.2 L66.0,545.3 L66.9,525.4 L67.7,519.7 L68.4,514.8 L69.2,508.5 L70.0,506.8 L70.8,504.4 L71.5,502.0 L72.3,499.5 L73.1,499.2 L73.8,498.3 L74.6,496.5 L75.4,495.8 L76.1,493.8 L76.9,493.8 L77.7,493.2 L78.5,493.3 L79.2,492.4 L80.0,491.0 L80.8,490.6 L81.5,490.6 L82.3,488.9 L83.1,489.1 L83.8,488.4 L84.5,488.1 L85.2,487.7 L85.9,488.7 L86.6,487.3 L87.3,487.3 L88.0,487.3 L88.7,487.9 L89.4,486.3 L90.1,486.7 L90.8,486.6 L91.5,487.2 L92.2,487.1 L92.9,487.2 L93.6,486.3 L94.3,486.5 L95.0,486.5 L95.8,487.4 L96.5,487.6 L97.2,486.3 L97.9,486.3 L98.6,486.5 L99.3,486.5 L100.0,487.0 L100.7,487.2 L101.4,486.6 L102.2,486.2 L102.9,486.9 L103.6,486.9 L104.3,487.2 L105.1,487.9 L105.8,487.5 L106.5,487.2 L107.2,487.4 L108.0,487.5 L108.7,486.5 L109.4,487.9 L110.1,487.7 L110.9,487.9 L111.6,487.8 L112.3,487.1 L113.2,487.0 L114.2,486.3 L114.6,482.9 L115.0,490.5 L115.6,488.8 L116.3,491.1 L117.0,493.1 L117.7,495.5 L118.5,496.6 L119.2,498.2 L120.0,500.0 L120.8,501.4 L121.5,503.3 L122.2,503.5 L122.9,505.7 L123.7,506.1 L124.4,506.1 L125.1,507.1 L125.8,508.0 L126.5,508.8 L127.2,509.1 L127.9,511.0 L128.7,512.0 L129.4,511.8 L130.1,512.5 L130.8,512.6 L131.5,513.3 L132.3,514.3 L133.0,514.8 L133.8,516.3 L134.6,515.7 L135.3,516.1 L136.1,518.2 L136.9,518.1 L137.7,518.0 L138.4,519.3 L139.2,519.0 L139.9,520.4 L140.7,521.6 L141.4,522.0 L142.2,522.2 L142.9,522.0 L143.6,522.7 L144.4,522.8 L145.1,524.4 L145.8,524.5 L146.6,525.4 L147.3,525.2 L148.1,525.5 L148.8,527.0 L149.5,527.8 L150.3,528.1 L151.0,528.5 L151.8,528.9 L152.5,529.3 L153.3,528.9 L154.0,529.9 L154.8,530.1 L155.5,530.0 L156.3,530.5 L157.0,531.4 L157.8,531.8 L158.5,533.0 L159.2,533.7 L160.0,533.1 L160.7,534.3 L161.5,534.6 L162.2,534.8 L162.9,534.1 L163.7,534.1 L164.4,534.4 L165.1,534.6 L165.9,534.9 L166.6,535.9 L167.4,536.6 L168.1,536.8 L168.8,536.4 L169.6,536.9 L170.3,537.4 L171.1,536.4 L171.8,537.5 L172.5,538.2 L173.3,538.2 L174.0,538.3 L174.7,538.1 L175.5,537.8 L176.2,539.1 L177.0,538.5 L177.7,539.5 L178.4,539.9 L179.2,539.0 L179.9,539.2 L180.7,540.2 L181.4,539.9 L182.1,539.1 L182.9,539.1 L183.6,539.3 L184.3,540.7 L185.1,540.6 L185.8,539.6 L186.6,540.8 L187.3,541.2 L188.0,540.7 L188.8,540.2 L189.5,540.6 L190.3,540.0 L191.0,539.8 L191.7,541.5 L192.5,541.0 L193.2,540.8 L193.9,541.6 L194.7,540.7 L195.4,541.5 L196.2,541.5 L196.9,540.5 L197.6,540.8 L198.4,541.1 L199.1,541.2 L199.9,542.0 L200.6,541.7 L201.3,542.2 L202.1,541.9 L202.8,543.4 L203.5,542.7 L204.3,543.1 L205.0,543.5 L205.8,544.3 L206.5,543.7 L207.2,544.7 L207.9,544.2 L208.6,544.5 L209.3,544.7 L210.0,544.1 L210.7,545.0 L211.4,544.8 L212.1,544.7 L212.8,546.3 L213.5,546.0" fill="none" stroke="#6a6a6a" stroke-width="1.0" stroke-linejoin="bevel"/>
<path d="M41.2,562.8 L42.1,562.4 L43.0,563.4 L43.9,562.0 L44.8,562.7 L45.6,562.6 L46.5,562.1 L47.4,563.3 L48.2,561.6 L49.1,562.9 L50.0,561.8 L50.8,561.9 L51.6,563.1 L52.5,563.5 L53.3,562.2 L54.1,562.6 L54.9,563.5 L55.7,563.5 L56.6,563.0 L57.4,562.4 L58.2,563.6 L59.6,561.0 L60.6,562.3 L61.5,561.2 L62.5,560.8 L63.5,561.3 L64.1,563.3 L64.6,562.0 L64.6,562.3 L65.0,559.6 L65.7,557.2 L66.4,554.9 L67.1,551.8 L67.8,547.7 L68.5,544.8 L69.2,543.8 L70.0,541.6 L70.8,540.4 L71.5,538.5 L72.2,538.0 L73.0,536.7 L73.8,535.8 L74.5,533.4 L75.3,533.3 L76.1,532.1 L76.9,530.2 L77.7,530.3 L78.4,529.4 L79.2,527.0 L80.0,527.2 L80.7,525.1 L81.5,524.2 L82.3,524.4 L83.0,523.4 L83.8,521.6 L84.6,521.4 L85.4,520.9 L86.2,519.9 L86.9,519.0 L87.7,518.5 L88.4,518.8 L89.1,517.3 L89.8,517.9 L90.5,517.3 L91.2,516.3 L91.9,516.4 L92.6,516.6 L93.3,516.1 L94.0,515.0 L94.7,516.2 L95.4,515.5 L96.1,515.7 L96.8,514.1 L97.5,514.2 L98.2,513.7 L98.9,514.8 L99.6,513.8 L100.4,513.4 L101.1,513.8 L101.8,514.5 L102.5,514.2 L103.2,513.1 L103.9,512.7 L104.6,513.9 L105.4,513.0 L106.1,512.9 L106.9,511.6 L107.7,511.2 L108.4,512.0 L109.2,511.2 L110.0,510.3 L110.7,511.5 L111.5,510.6 L112.3,510.6 L113.0,509.2 L113.8,510.2 L114.2,505.8 L114.6,516.4 L115.2,510.9 L116.1,511.6 L116.9,512.8 L117.7,514.5 L118.5,514.4 L119.2,515.2 L120.0,516.9 L120.7,517.0 L121.5,517.3 L122.2,517.9 L123.0,518.2 L123.7,519.0 L124.4,519.7 L125.2,520.2 L125.9,521.5 L126.6,521.3 L127.4,522.1 L128.1,522.1 L128.9,522.9 L129.6,522.9 L130.3,523.7 L131.1,523.8 L131.8,525.4 L132.6,525.5 L133.3,525.4 L134.0,526.3 L134.8,527.5 L135.5,526.5 L136.2,528.2 L137.0,528.0 L137.7,528.5 L138.5,529.5 L139.2,529.2 L139.9,529.8 L140.7,530.5 L141.4,531.3 L142.2,530.6 L142.9,531.8 L143.6,532.0 L144.4,532.2 L145.1,532.2 L145.8,532.5 L146.6,532.3 L147.3,532.8 L148.1,533.1 L148.8,534.6 L149.5,534.1 L150.3,534.2 L151.0,534.3 L151.8,535.9 L152.5,536.2 L153.3,536.1 L154.0,535.7 L154.8,535.9 L155.5,536.3 L156.3,536.8 L157.0,536.6 L157.8,537.3 L158.5,537.3 L159.2,538.7 L160.0,538.9 L160.7,538.4 L161.5,538.1 L162.2,539.5 L162.9,538.6 L163.7,538.9 L164.4,538.5 L165.1,539.4 L165.9,539.7 L166.6,540.0 L167.4,539.7 L168.1,540.4 L168.8,539.7 L169.6,540.3 L170.3,540.1 L171.1,540.8 L171.8,540.4 L172.5,540.5 L173.3,541.1 L174.0,541.1 L174.7,541.9 L175.5,541.9 L176.2,542.4 L177.0,542.4 L177.7,542.7 L178.4,543.1 L179.2,542.3 L179.9,542.4 L180.7,543.6 L181.4,542.3 L182.1,543.4 L182.9,543.4 L183.6,542.4 L184.3,543.9 L185.1,544.1 L185.8,543.8 L186.6,544.1 L187.3,544.3 L188.0,543.3 L188.8,544.1 L189.5,544.1 L190.3,544.8 L191.0,544.9 L191.7,545.0 L192.5,544.7 L193.2,545.3 L193.9,545.1 L194.7,545.2 L195.4,544.5 L196.2,544.3 L196.9,544.6 L197.6,545.0 L198.4,544.7 L199.1,546.0 L199.9,545.6 L200.6,545.8 L201.3,545.9 L202.1,546.1 L202.8,545.9 L203.5,545.1 L204.3,546.6 L205.0,546.6 L205.8,546.2 L206.5,546.4 L207.2,546.7 L207.9,545.8 L208.6,547.1 L209.3,546.4 L210.0,546.2 L210.7,546.6 L211.4,547.5 L212.1,546.8 L212.8,547.8 L213.5,547.5" fill="none" stroke="#151515" stroke-width="1.2" stroke-linejoin="bevel"/>
<path d="M41.2,563.1 L42.1,562.5 L43.0,563.1 L43.9,562.0 L44.8,562.9 L45.6,562.6 L46.5,562.0 L47.4,562.9 L48.2,562.0 L49.1,562.8 L50.0,562.1 L50.8,562.1 L51.6,562.8 L52.5,563.5 L53.3,562.1 L54.1,562.2 L54.9,563.0 L55.7,563.6 L56.6,562.8 L57.4,562.4 L58.2,563.6 L59.6,560.8 L60.6,562.4 L61.5,561.2 L62.5,560.8 L63.5,560.7 L64.1,563.0 L64.6,561.5 L64.6,562.3 L65.2,556.0 L65.8,534.8 L66.2,519.6 L67.0,506.9 L67.7,494.0 L68.5,490.1 L69.2,486.5 L70.0,482.0 L70.8,480.9 L71.5,479.9 L72.3,479.6 L73.1,477.7 L73.9,477.4 L74.6,475.7 L75.4,475.0 L76.1,474.6 L76.9,474.5 L77.7,474.3 L78.5,474.1 L79.2,473.3 L80.0,473.5 L80.8,473.2 L81.5,473.0 L82.3,472.2 L83.1,473.4 L83.8,472.1 L84.5,473.2 L85.2,473.0 L85.9,471.3 L86.6,471.9 L87.3,472.4 L88.0,472.5 L88.7,471.5 L89.4,471.1 L90.1,470.8 L90.8,472.0 L91.6,470.7 L92.3,471.2 L93.1,470.4 L93.8,471.0 L94.6,471.7 L95.4,470.3 L96.1,471.4 L96.9,470.8 L97.7,471.6 L98.4,471.5 L99.2,470.9 L100.0,472.2 L100.8,471.7 L101.5,471.1 L102.3,471.2 L103.1,472.2 L103.8,472.3 L104.6,472.3 L105.4,471.8 L106.1,472.0 L106.9,471.8 L107.7,472.5 L108.4,470.9 L109.2,472.0 L109.9,471.9 L110.6,470.5 L111.3,471.6 L112.1,471.0 L112.8,471.0 L113.5,469.7 L114.5,471.3 L115.3,473.8 L116.2,477.3 L117.0,479.0 L117.7,480.9 L118.5,483.4 L119.2,485.4 L120.0,490.2 L120.8,491.0 L121.5,493.0 L122.3,492.7 L123.1,494.5 L123.8,494.1 L124.6,494.8 L125.3,495.8 L126.0,495.9 L126.7,496.9 L127.5,498.5 L128.2,499.0 L128.9,499.5 L129.6,499.8 L130.3,500.9 L131.1,501.5 L131.8,501.5 L132.6,502.3 L133.3,501.8 L134.0,503.5 L134.8,503.7 L135.5,504.8 L136.2,505.2 L137.0,505.2 L137.7,505.3 L138.5,507.4 L139.2,506.7 L139.9,507.7 L140.7,508.0 L141.4,508.4 L142.2,509.6 L142.9,510.5 L143.6,509.8 L144.4,510.9 L145.1,510.8 L145.8,511.7 L146.6,511.9 L147.3,512.0 L148.1,512.4 L148.8,513.0 L149.5,514.6 L150.3,514.3 L151.0,514.2 L151.8,515.8 L152.5,516.4 L153.3,515.9 L154.0,515.7 L154.8,516.2 L155.5,516.5 L156.3,517.3 L157.0,517.3 L157.8,517.9 L158.5,518.4 L159.2,519.2 L160.0,520.1 L160.7,520.2 L161.5,520.0 L162.2,520.3 L162.9,520.8 L163.7,520.9 L164.4,521.2 L165.1,521.0 L165.9,521.7 L166.6,523.2 L167.4,522.1 L168.1,523.1 L168.8,523.6 L169.6,524.2 L170.3,523.4 L171.1,523.8 L171.8,524.0 L172.5,524.5 L173.3,524.8 L174.0,526.0 L174.7,526.0 L175.5,526.3 L176.2,525.2 L177.0,525.4 L177.7,526.9 L178.4,527.5 L179.2,527.1 L179.9,527.5 L180.7,526.9 L181.4,527.8 L182.1,529.0 L182.9,529.2 L183.6,529.5 L184.3,530.0 L185.1,529.1 L185.8,529.1 L186.6,529.5 L187.3,530.4 L188.0,530.9 L188.8,531.5 L189.5,531.3 L190.3,531.4 L191.0,531.7 L191.7,531.4 L192.5,531.7 L193.2,531.0 L193.9,532.5 L194.7,531.7 L195.4,533.1 L196.2,532.8 L196.9,532.4 L197.6,532.3 L198.4,532.7 L199.1,533.5 L199.9,533.8 L200.6,533.0 L201.3,533.1 L202.1,534.1 L202.8,534.4 L203.5,534.2 L204.3,534.2 L205.0,535.0 L205.8,534.2 L206.5,534.9 L207.2,535.3 L207.9,536.3 L208.6,535.9 L209.4,536.5 L210.1,535.9 L210.8,535.7 L211.5,535.8 L212.2,537.2 L212.9,536.9 L213.7,536.4 L214.4,536.1 L215.1,537.0 L215.8,537.2" fill="none" stroke="#151515" stroke-width="1.2" stroke-linejoin="bevel"/>
<text x="192.6" y="530.2" font-size="9.6" text-anchor="start" font-weight="normal" fill="#111" stroke="#111" stroke-width="0.25">100 nM</text>
<text x="211" y="548.5" font-size="9.8" text-anchor="start" font-weight="normal" fill="#111" stroke="#111" stroke-width="0.25">50 nM</text>
<text x="181.3" y="553.8" font-size="9.4" text-anchor="start" font-weight="normal" fill="#111" stroke="#111" stroke-width="0.25">10 nM</text>
<line x1="288.2" y1="450.5" x2="288.2" y2="580.4" stroke="#111" stroke-width="1.1"/>
<line x1="287.7" y1="580.4" x2="488.9" y2="580.4" stroke="#111" stroke-width="1.1"/>
<line x1="288.2" y1="450.8" x2="290.4" y2="450.8" stroke="#111" stroke-width="0.8"/>
<text transform="translate(279.2 457.59999999999997) scale(1.08 1)" x="0" y="0" font-size="9.4" text-anchor="middle" fill="#111" stroke="#111" stroke-width="0.25">60</text>
<line x1="288.2" y1="469.32" x2="290.4" y2="469.32" stroke="#111" stroke-width="0.8"/>
<text transform="translate(279.2 476.2) scale(1.08 1)" x="0" y="0" font-size="9.4" text-anchor="middle" fill="#111" stroke="#111" stroke-width="0.25">50</text>
<line x1="288.2" y1="487.84000000000003" x2="290.4" y2="487.84000000000003" stroke="#111" stroke-width="0.8"/>
<text transform="translate(279.2 494.79999999999995) scale(1.08 1)" x="0" y="0" font-size="9.4" text-anchor="middle" fill="#111" stroke="#111" stroke-width="0.25">40</text>
<line x1="288.2" y1="506.36" x2="290.4" y2="506.36" stroke="#111" stroke-width="0.8"/>
<text transform="translate(279.2 513.4) scale(1.08 1)" x="0" y="0" font-size="9.4" text-anchor="middle" fill="#111" stroke="#111" stroke-width="0.25">30</text>
<line x1="288.2" y1="524.88" x2="290.4" y2="524.88" stroke="#111" stroke-width="0.8"/>
<text transform="translate(279.2 532.0) scale(1.08 1)" x="0" y="0" font-size="9.4" text-anchor="middle" fill="#111" stroke="#111" stroke-width="0.25">20</text>
<line x1="288.2" y1="543.4" x2="290.4" y2="543.4" stroke="#111" stroke-width="0.8"/>
<text transform="translate(279.2 550.6) scale(1.08 1)" x="0" y="0" font-size="9.4" text-anchor="middle" fill="#111" stroke="#111" stroke-width="0.25">10</text>
<line x1="288.2" y1="561.9200000000001" x2="290.4" y2="561.9200000000001" stroke="#111" stroke-width="0.8"/>
<text transform="translate(278 569.1999999999999) scale(1.08 1)" x="0" y="0" font-size="9.4" text-anchor="middle" fill="#111" stroke="#111" stroke-width="0.25">0</text>
<line x1="288.2" y1="580.44" x2="290.4" y2="580.44" stroke="#111" stroke-width="0.8"/>
<text transform="translate(279.2 587.8) scale(1.08 1)" x="0" y="0" font-size="9.4" text-anchor="middle" fill="#111" stroke="#111" stroke-width="0.25">-10</text>
<line x1="287.6" y1="581.3" x2="287.6" y2="578.0" stroke="#111" stroke-width="0.9"/>
<line x1="304.35" y1="581.3" x2="304.35" y2="578.6" stroke="#111" stroke-width="0.9"/>
<line x1="321.1" y1="581.3" x2="321.1" y2="578.0" stroke="#111" stroke-width="0.9"/>
<line x1="337.85" y1="581.3" x2="337.85" y2="578.6" stroke="#111" stroke-width="0.9"/>
<line x1="354.6" y1="581.3" x2="354.6" y2="578.0" stroke="#111" stroke-width="0.9"/>
<line x1="371.35" y1="581.3" x2="371.35" y2="578.6" stroke="#111" stroke-width="0.9"/>
<line x1="388.1" y1="581.3" x2="388.1" y2="578.0" stroke="#111" stroke-width="0.9"/>
<line x1="404.85" y1="581.3" x2="404.85" y2="578.6" stroke="#111" stroke-width="0.9"/>
<line x1="421.6" y1="581.3" x2="421.6" y2="578.0" stroke="#111" stroke-width="0.9"/>
<line x1="438.35" y1="581.3" x2="438.35" y2="578.6" stroke="#111" stroke-width="0.9"/>
<line x1="455.1" y1="581.3" x2="455.1" y2="578.0" stroke="#111" stroke-width="0.9"/>
<line x1="471.85" y1="581.3" x2="471.85" y2="578.6" stroke="#111" stroke-width="0.9"/>
<line x1="488.6" y1="581.3" x2="488.6" y2="578.0" stroke="#111" stroke-width="0.9"/>
<text transform="translate(290.5 591.6) scale(1.08 1)" x="0" y="0" font-size="9.4" text-anchor="middle" fill="#111" stroke="#111" stroke-width="0.25">0</text>
<text transform="translate(326.6 591.6) scale(1.08 1)" x="0" y="0" font-size="9.4" text-anchor="middle" fill="#111" stroke="#111" stroke-width="0.25">200</text>
<text transform="translate(361 591.6) scale(1.08 1)" x="0" y="0" font-size="9.4" text-anchor="middle" fill="#111" stroke="#111" stroke-width="0.25">400</text>
<text transform="translate(393.8 591.6) scale(1.08 1)" x="0" y="0" font-size="9.4" text-anchor="middle" fill="#111" stroke="#111" stroke-width="0.25">600</text>
<text transform="translate(427.2 591.6) scale(1.08 1)" x="0" y="0" font-size="9.4" text-anchor="middle" fill="#111" stroke="#111" stroke-width="0.25">800</text>
<text transform="translate(462.6 591.6) scale(1.08 1)" x="0" y="0" font-size="9.4" text-anchor="middle" fill="#111" stroke="#111" stroke-width="0.25">1000</text>
<text x="485.6" y="591.6" font-size="9.4" text-anchor="start" font-weight="normal" fill="#111" textLength="27.5" lengthAdjust="spacingAndGlyphs" stroke="#111" stroke-width="0.25">1200 s</text>
<text x="381" y="603.9" font-size="10.6" text-anchor="start" font-weight="normal" fill="#111" textLength="21.6" lengthAdjust="spacingAndGlyphs" stroke="#111" stroke-width="0.25">Time</text>
<text x="274.4" y="444.7" font-size="10" text-anchor="start" font-weight="normal" fill="#111" stroke="#111" stroke-width="0.25">RU</text>
<text x="298" y="459.5" font-size="13.5" text-anchor="start" font-weight="normal" fill="#111" stroke="#111" stroke-width="0.25">PDI</text>
<text x="254.2" y="488.5" font-size="10.5" text-anchor="start" font-weight="normal" fill="#111" transform="rotate(90 254.2 488.5)" stroke="#111" stroke-width="0.25">Resp. Diff.</text>
<path d="M288.5,563.0 L288.8,571.2 L289.3,555.8 L289.9,561.5" fill="none" stroke="#222" stroke-width="1.0" stroke-linejoin="bevel"/>
<path d="M305.4,561.0 L305.8,554.3 L306.3,575.8 L306.8,561.2" fill="none" stroke="#333" stroke-width="0.9" stroke-linejoin="bevel"/>
<path d="M311.6,560.6 L312.4,554.2 L313.2,560.0" fill="none" stroke="#333" stroke-width="0.9" stroke-linejoin="bevel"/>
<path d="M288.8,561.7 L290.0,561.1 L290.9,561.4 L291.7,561.3 L292.6,561.7 L293.4,560.2 L294.3,560.1 L295.1,561.1 L296.0,561.2 L296.8,561.7 L297.7,561.1 L298.5,562.3 L299.3,561.7 L300.2,561.2 L301.0,561.4 L301.9,562.7 L302.7,560.5 L303.6,562.0 L304.4,560.5 L305.3,560.3 L306.8,561.6 L307.7,560.3 L308.7,561.4 L309.6,560.6 L310.6,559.9 L311.5,560.5 L312.4,557.0 L313.3,560.8 L314.1,561.7 L315.0,561.3 L315.8,563.6 L315.8,563.9 L316.6,563.4 L317.5,562.9 L318.4,563.9 L319.2,564.0 L319.9,565.1 L320.7,563.8 L321.4,564.3 L322.2,565.3 L322.9,563.9 L323.6,564.6 L324.4,565.5 L325.1,565.5 L325.8,564.3 L326.6,564.4 L327.3,564.5 L328.1,566.2 L328.8,565.1 L329.5,566.0 L330.3,566.4 L331.0,565.4 L331.8,565.4 L332.5,566.7 L333.3,566.2 L334.0,565.6 L334.8,566.5 L335.5,565.9 L336.3,565.9 L337.0,565.5 L337.8,566.9 L338.5,567.2 L339.3,566.9 L340.0,567.6 L340.8,566.0 L341.6,566.5 L342.4,567.1 L343.1,568.1 L343.9,568.2 L344.7,567.3 L345.4,567.2 L346.2,567.7 L347.0,567.9 L347.7,568.7 L348.5,567.4 L349.2,568.6 L350.0,568.6 L350.8,568.8 L351.5,568.8 L352.3,568.6 L353.0,568.1 L353.8,568.2 L354.6,568.2 L355.3,568.8 L356.1,567.4 L356.9,567.6 L357.6,568.5 L358.4,567.4 L359.2,567.0 L360.0,566.9 L360.7,567.7 L361.5,567.2 L362.3,568.3 L363.0,568.1 L363.8,568.2 L364.6,566.9 L365.4,566.5 L366.1,566.5 L366.9,567.1 L367.7,567.5 L368.4,567.0 L369.2,566.5 L370.0,566.8 L370.7,567.2 L371.5,567.3 L372.3,567.4 L373.0,567.5 L373.8,567.2 L374.6,566.2 L375.4,567.5 L376.1,566.4 L376.9,566.9 L377.6,566.6 L378.4,567.3 L379.1,566.4 L379.9,566.6 L380.6,566.6 L381.3,566.5 L382.1,567.9 L382.8,567.4 L383.5,567.0 L384.3,567.2 L385.0,568.3 L385.8,567.5 L386.5,567.0 L387.2,568.1 L388.0,567.8 L388.7,568.4 L389.5,566.8 L390.2,567.5 L391.0,568.1 L391.7,568.1 L392.5,568.2 L393.2,566.7 L394.0,567.1 L394.7,566.8 L395.5,566.9 L396.2,568.4 L397.0,567.6 L397.7,568.2 L398.5,567.2 L399.2,568.0 L400.0,567.2 L400.7,566.9 L401.4,567.8 L402.1,568.1 L402.9,566.6 L403.6,567.5 L404.3,567.6 L405.0,566.9 L405.7,567.2 L406.4,566.8 L407.1,566.9 L407.9,567.0 L408.6,567.7 L409.3,567.8 L410.0,567.0 L410.7,566.6 L411.4,567.1 L412.1,567.8 L412.9,566.8 L413.6,567.1 L414.3,566.8 L415.0,567.9 L415.7,567.4 L416.4,566.5 L417.1,566.6 L417.9,567.1 L418.6,567.3 L419.3,567.5 L420.0,566.5 L420.7,566.6 L421.4,567.5 L422.1,567.0 L422.9,566.8 L423.6,566.8 L424.3,567.9 L425.0,566.8 L425.7,567.2 L426.4,566.8 L427.1,566.9 L427.9,567.7 L428.6,567.9 L429.3,566.8 L430.0,566.5 L430.7,567.4 L431.4,566.5 L432.1,566.2 L432.9,567.8 L433.6,567.0 L434.3,567.7 L435.0,567.0 L435.7,567.9 L436.4,567.1 L437.1,566.6 L437.9,566.4 L438.6,567.3 L439.3,567.5 L440.0,568.0 L440.7,566.5 L441.4,567.4 L442.1,567.0 L442.9,567.2 L443.6,566.5 L444.3,566.7 L445.0,567.1 L445.7,567.8 L446.4,566.3 L447.1,566.9 L447.9,567.5 L448.6,567.7 L449.3,566.3 L450.0,566.1 L450.8,567.7 L451.6,567.9 L452.4,567.1 L453.1,566.5 L453.9,568.1 L454.7,567.3 L455.5,567.6" fill="none" stroke="#6a6a6a" stroke-width="1.1" stroke-linejoin="bevel"/>
<path d="M288.8,562.3 L290.0,561.5 L290.9,561.3 L291.7,561.4 L292.6,562.4 L293.4,560.4 L294.3,560.1 L295.1,561.1 L296.0,561.2 L296.8,561.1 L297.7,560.3 L298.5,561.8 L299.3,561.9 L300.2,561.4 L301.0,560.6 L301.9,562.2 L302.7,561.2 L303.6,562.3 L304.4,560.1 L305.3,560.5 L306.8,562.0 L307.7,560.2 L308.7,562.2 L309.6,560.4 L310.6,560.2 L311.5,560.1 L312.4,557.5 L313.3,560.1 L314.1,561.9 L315.0,561.6 L315.8,563.2 L315.8,563.6 L316.6,563.5 L317.5,563.8 L318.4,563.3 L319.2,564.7 L319.9,564.6 L320.7,564.3 L321.4,565.3 L322.2,565.5 L322.9,565.0 L323.6,564.6 L324.4,565.3 L325.1,564.7 L325.8,564.9 L326.6,565.5 L327.3,565.0 L328.1,565.8 L328.8,566.0 L329.5,565.3 L330.3,566.5 L331.0,565.6 L331.8,566.9 L332.5,567.1 L333.3,566.7 L334.0,566.0 L334.8,566.9 L335.5,566.8 L336.3,568.0 L337.0,566.6 L337.8,568.0 L338.5,568.4 L339.3,568.0 L340.0,568.3 L340.8,567.3 L341.6,568.8 L342.4,568.1 L343.1,569.0 L343.9,569.1 L344.7,567.9 L345.4,569.1 L346.2,569.5 L347.0,568.0 L347.7,568.6 L348.5,569.4 L349.2,568.4 L350.0,569.9 L350.8,568.8 L351.5,569.9 L352.3,568.8 L353.0,569.5 L353.8,570.4 L354.6,569.0 L355.3,569.1 L356.1,569.5 L356.9,569.1 L357.6,568.6 L358.4,568.8 L359.2,568.7 L360.0,570.1 L360.7,569.6 L361.5,569.9 L362.3,568.6 L363.0,569.6 L363.8,568.4 L364.6,569.1 L365.4,569.2 L366.1,568.6 L366.9,569.5 L367.7,568.9 L368.4,568.9 L369.2,569.4 L370.0,568.0 L370.7,569.7 L371.5,569.1 L372.3,568.7 L373.0,569.5 L373.8,568.6 L374.6,569.9 L375.4,569.2 L376.1,568.9 L376.9,569.7 L377.6,569.1 L378.4,568.7 L379.1,569.7 L379.9,568.5 L380.6,569.9 L381.3,568.9 L382.1,569.7 L382.8,570.3 L383.5,569.6 L384.3,569.8 L385.0,569.2 L385.8,568.7 L386.5,568.8 L387.2,568.9 L388.0,569.7 L388.7,569.3 L389.5,569.4 L390.2,570.0 L391.0,568.6 L391.7,568.7 L392.5,569.4 L393.2,568.2 L394.0,568.1 L394.7,568.7 L395.5,568.2 L396.2,568.5 L397.0,568.3 L397.7,569.0 L398.5,569.0 L399.2,568.3 L400.0,569.0 L400.7,568.8 L401.4,568.1 L402.1,569.6 L402.9,568.3 L403.6,568.2 L404.3,568.1 L405.0,569.0 L405.7,569.5 L406.4,569.3 L407.1,568.6 L407.9,568.4 L408.6,567.9 L409.3,569.1 L410.0,568.9 L410.7,568.5 L411.4,568.9 L412.1,568.5 L412.9,569.4 L413.6,568.9 L414.3,568.0 L415.0,569.1 L415.7,567.5 L416.4,568.3 L417.1,568.1 L417.9,567.7 L418.6,567.3 L419.3,568.6 L420.0,567.1 L420.7,568.1 L421.4,568.7 L422.1,567.2 L422.9,567.3 L423.6,568.0 L424.3,567.8 L425.0,568.0 L425.7,568.3 L426.4,567.1 L427.1,567.3 L427.9,567.2 L428.6,566.8 L429.3,568.2 L430.0,568.0 L430.7,567.9 L431.4,566.6 L432.1,568.1 L432.9,567.9 L433.6,567.4 L434.3,567.9 L435.0,567.4 L435.7,567.0 L436.4,566.8 L437.1,567.0 L437.9,566.7 L438.6,567.2 L439.3,567.9 L440.0,567.9 L440.7,568.1 L441.4,567.8 L442.1,567.0 L442.9,567.5 L443.6,567.2 L444.3,567.8 L445.0,567.3 L445.7,566.8 L446.4,567.4 L447.1,568.0 L447.9,566.6 L448.6,567.8 L449.3,566.2 L450.0,566.6 L450.8,566.6 L451.6,567.7 L452.4,568.1 L453.1,567.9 L453.9,567.3 L454.7,568.4 L455.5,567.8" fill="none" stroke="#1a1a1a" stroke-width="1.2" stroke-linejoin="bevel"/>
<path d="M288.8,561.8 L290.0,561.3 L290.9,560.9 L291.7,561.7 L292.6,562.1 L293.4,560.7 L294.3,560.2 L295.1,560.7 L296.0,560.8 L296.8,561.5 L297.7,560.6 L298.5,561.9 L299.3,561.9 L300.2,561.5 L301.0,561.0 L301.9,562.4 L302.7,561.0 L303.6,561.9 L304.4,560.6 L305.3,560.4 L306.8,561.7 L307.7,560.7 L308.7,561.9 L309.6,560.8 L310.6,560.1 L311.5,560.0 L312.4,557.3 L313.3,560.3 L314.1,562.0 L315.0,561.5 L315.8,563.3 L315.8,563.0 L316.6,562.9 L317.5,564.1 L318.4,563.7 L319.2,563.8 L319.9,563.9 L320.7,564.5 L321.4,563.6 L322.2,564.3 L322.9,564.1 L323.6,564.5 L324.4,563.8 L325.1,564.3 L325.8,564.1 L326.6,563.7 L327.3,563.6 L328.1,564.4 L328.8,563.4 L329.5,564.9 L330.3,563.5 L331.0,563.3 L331.8,563.4 L332.5,564.8 L333.3,563.7 L334.0,563.3 L334.8,563.1 L335.5,563.1 L336.3,564.2 L337.0,564.1 L337.8,564.2 L338.5,564.2 L339.3,563.2 L340.0,564.3 L340.8,564.0 L341.6,565.0 L342.4,565.2 L343.1,565.5 L343.9,564.1 L344.7,565.7 L345.4,566.0 L346.2,566.2 L347.0,564.6 L347.7,564.8 L348.5,564.5 L349.2,564.3 L350.0,565.7 L350.8,565.6 L351.5,565.2 L352.3,565.5 L353.0,565.1 L353.8,564.4 L354.6,563.9 L355.3,563.7 L356.1,564.7 L356.9,563.5 L357.6,563.5 L358.4,563.5 L359.2,562.6 L360.0,562.8 L360.7,562.7 L361.5,563.3 L361.9,559.3 L362.3,565.7 L362.8,563.7 L363.5,562.9 L364.2,563.5 L364.9,563.1 L365.6,562.1 L366.4,562.7 L367.1,562.8 L367.8,563.4 L368.5,562.6 L369.2,563.3 L370.0,563.1 L370.7,562.6 L371.5,563.8 L372.3,562.5 L373.0,563.9 L373.8,562.8 L374.6,562.6 L375.4,563.1 L376.1,564.2 L376.9,564.7 L377.6,563.0 L378.4,563.9 L379.1,564.0 L379.9,564.6 L380.6,563.6 L381.3,564.3 L382.1,564.1 L382.8,565.0 L383.5,564.1 L384.3,565.4 L385.0,564.3 L385.8,564.2 L386.5,565.2 L387.2,564.8 L388.0,564.1 L388.7,565.0 L389.5,564.0 L390.2,565.3 L391.0,565.2 L391.7,565.3 L392.5,565.0 L393.2,564.5 L394.0,564.6 L394.7,564.6 L395.5,565.5 L396.2,564.1 L397.0,565.4 L397.7,563.8 L398.5,564.1 L399.2,564.1 L400.0,565.2 L400.7,564.6 L401.4,564.4 L402.1,565.4 L402.9,564.3 L403.6,564.8 L404.3,565.0 L405.0,565.5 L405.7,565.5 L406.4,565.4 L407.1,564.9 L407.9,565.0 L408.6,564.7 L409.3,566.0 L410.0,565.8 L410.7,566.0 L411.4,565.0 L412.1,565.5 L412.9,566.2 L413.6,565.9 L414.3,565.1 L415.0,565.8 L415.7,566.6 L416.4,565.5 L417.1,565.4 L417.9,565.7 L418.6,566.5 L419.3,566.8 L420.0,565.6 L420.7,565.6 L421.4,565.7 L422.1,565.9 L422.9,566.2 L423.6,565.6 L424.3,565.9 L425.0,565.6 L425.7,567.1 L426.4,566.6 L427.1,565.5 L427.9,567.0 L428.6,565.5 L429.3,566.0 L430.0,567.1 L430.7,566.8 L431.4,566.7 L432.1,566.3 L432.9,565.9 L433.6,566.7 L434.3,565.8 L435.0,566.1 L435.7,566.5 L436.4,565.9 L437.1,566.6 L437.9,567.4 L438.6,567.2 L439.3,566.9 L440.0,567.2 L440.7,566.9 L441.4,566.3 L442.1,567.0 L442.9,566.6 L443.6,567.2 L444.3,567.4 L445.0,566.5 L445.7,566.7 L446.4,567.0 L447.1,566.4 L447.9,566.0 L448.6,566.8 L449.3,567.0 L450.0,566.8 L451.2,563.4 L452.0,567.4 L452.7,567.3 L453.4,567.3 L454.1,567.1 L454.8,567.0 L455.5,567.5" fill="none" stroke="#151515" stroke-width="1.25" stroke-linejoin="bevel"/>
<text x="367.7" y="545.6" font-size="10" text-anchor="start" font-weight="normal" fill="#111" stroke="#111" stroke-width="0.25">10 nM</text>
<text x="445.6" y="552" font-size="10" text-anchor="start" font-weight="normal" fill="#111" stroke="#111" stroke-width="0.25">50 nM</text>
<text x="471.4" y="573.1" font-size="10.4" text-anchor="start" font-weight="normal" fill="#111" stroke="#111" stroke-width="0.25">100 nM</text>
<line x1="370.8" y1="554.2" x2="370.8" y2="559" stroke="#111" stroke-width="1.1"/>
<path d="M368.0,557 L373.6,557 L370.8,562 Z" fill="#111"/>
<line x1="452.6" y1="556.2" x2="452.6" y2="563.5" stroke="#111" stroke-width="1.1"/>
<path d="M449.8,561.5 L455.40000000000003,561.5 L452.6,566.5 Z" fill="#111"/>
<line x1="469.3" y1="568.5" x2="461" y2="568.5" stroke="#111" stroke-width="1.1"/>
<path d="M462.8,565.8 L462.8,571.2 L457.2,568.5 Z" fill="#111"/>
</svg>
</body></html>
